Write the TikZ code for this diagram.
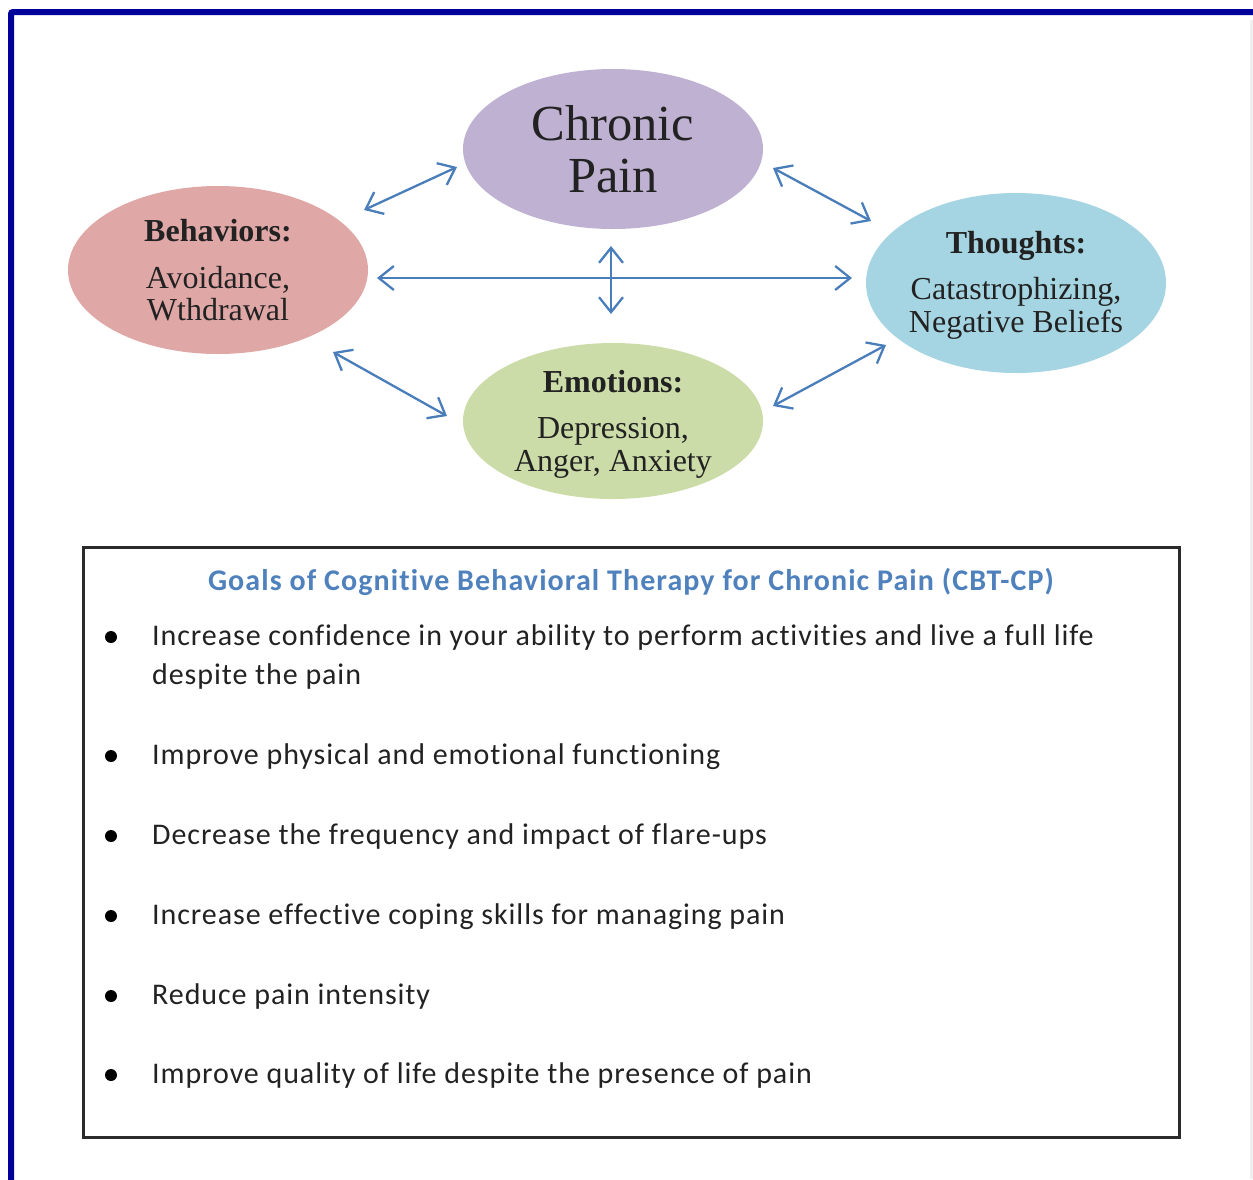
\documentclass[tikz,border=0pt]{standalone}
\usepackage{fontspec}
\setmainfont{Liberation Serif}
\newfontfamily\calibri[Ligatures={NoCommon}, LetterSpace=3.1]{Carlito}
\newfontfamily\calibrib[Ligatures={NoCommon}, LetterSpace=3.6]{Carlito Bold}
\usetikzlibrary{arrows.meta,shapes.geometric}
\definecolor{pageblue}{HTML}{00009A}
\definecolor{cpcol}{HTML}{BFB1D2}
\definecolor{behcol}{HTML}{DFA7A6}
\definecolor{thocol}{HTML}{A5D5E2}
\definecolor{emocol}{HTML}{CCDCA8}
\definecolor{arrcol}{HTML}{4A7EBB}
\definecolor{titcol}{HTML}{4F81BD}
\definecolor{txtcol}{HTML}{222222}
\definecolor{boxcol}{HTML}{2B2B2B}
\tikzset{
  blob/.style={ellipse, draw=none, inner sep=0pt, outer sep=0pt},
  bigtxt/.style={anchor=base, inner sep=0pt, text=txtcol, font=\fontsize{50.5}{52}\selectfont},
  headtxt/.style={anchor=base, inner sep=0pt, text=txtcol, font=\fontsize{32}{33}\selectfont\bfseries},
  subtxt/.style={anchor=base, inner sep=0pt, text=txtcol, font=\fontsize{32}{33}\selectfont},
  link/.style={draw=arrcol, line width=2.3pt, {Straight Barb[length=15pt,width=24pt]}-{Straight Barb[length=15pt,width=24pt]}},
  goaltxt/.style={anchor=base west, inner sep=0pt, text=txtcol, font=\calibri\fontsize{30}{39}\selectfont},
  dot/.style={circle, fill=black, inner sep=0pt, minimum size=12pt},
}
\begin{document}
\begin{tikzpicture}[x=1pt,y=-1pt]
\useasboundingbox (0,0) rectangle (1253,1179);
% page border
\draw[gray!12, line width=3pt] (1251,20) -- (1251,1179);
\draw[pageblue, line width=6pt, rounded corners=2pt] (11,1185) -- (11,12) -- (1260,12);

% ellipses
\node[blob, fill=cpcol, minimum width=300pt, minimum height=160pt] (cp) at (613,149) {};
\node[blob, fill=behcol, minimum width=300pt, minimum height=168pt] (beh) at (218,270) {};
\node[blob, fill=thocol, minimum width=300pt, minimum height=180pt] (tho) at (1016,283) {};
\node[blob, fill=emocol, minimum width=300pt, minimum height=156pt] (emo) at (613,421) {};

% texts in ellipses
\node[bigtxt] (cp1) at (613,140) {Chronic};
\node[bigtxt] (cp2) at (613,192) {Pain};
\node[headtxt] (beh1) at (218,241) {Behaviors:};
\node[subtxt] (beh2) at (218,288) {Avoidance,};
\node[subtxt] (beh3) at (218,320) {Wthdrawal};
\node[headtxt] (tho1) at (1016,253) {Thoughts:};
\node[subtxt] (tho2) at (1016,299) {Catastrophizing,};
\node[subtxt] (tho3) at (1016,332) {Negative Beliefs};
\node[headtxt] (emo1) at (613,392) {Emotions:};
\node[subtxt] (emo2) at (613,438) {Depression,};
\node[subtxt] (emo3) at (613,471) {Anger, Anxiety};

% arrow end points
\coordinate (a1) at (364,210); \coordinate (a2) at (457,167);
\coordinate (b1) at (773,168); \coordinate (b2) at (871,221);
\coordinate (c1) at (377,278); \coordinate (c2) at (852,278);
\coordinate (d1) at (611,246); \coordinate (d2) at (611,314);
\coordinate (e1) at (333,352); \coordinate (e2) at (447,416);
\coordinate (f1) at (773,406); \coordinate (f2) at (886,345);
\draw[link] (a1) -- (a2);
\draw[link] (b1) -- (b2);
\draw[link] (c1) -- (c2);
\draw[link] (d1) -- (d2);
\draw[link] (e1) -- (e2);
\draw[link] (f1) -- (f2);

% goals box
\node[draw=boxcol, line width=3pt, inner sep=0pt, outer sep=0pt, minimum width=1096pt, minimum height=590pt] (goalbox) at (631,842) {};
\node[anchor=base, inner sep=0pt, text=titcol, font=\calibrib\fontsize{30}{34}\selectfont] (title) at (631,590) {Goals of Cognitive Behavioral Therapy for Chronic Pain (CBT-CP)};

\node[dot] (d1b) at (111,637) {};
\node[goaltxt] (g1) at (152,645) {Increase confidence in your ability to perform activities and live a full life};
\node[goaltxt] (g1b) at (152,684) {despite the pain};
\node[dot] (d2b) at (111,756) {};
\node[goaltxt] (g2) at (152,764) {Improve physical and emotional functioning};
\node[dot] (d3b) at (111,836) {};
\node[goaltxt] (g3) at (152,844) {Decrease the frequency and impact of flare-ups};
\node[dot] (d4b) at (111,916) {};
\node[goaltxt] (g4) at (152,924) {Increase effective coping skills for managing pain};
\node[dot] (d5b) at (111,996) {};
\node[goaltxt] (g5) at (152,1004) {Reduce pain intensity};
\node[dot] (d6b) at (111,1075) {};
\node[goaltxt] (g6) at (152,1083) {Improve quality of life despite the presence of pain};
\end{tikzpicture}
\end{document}
